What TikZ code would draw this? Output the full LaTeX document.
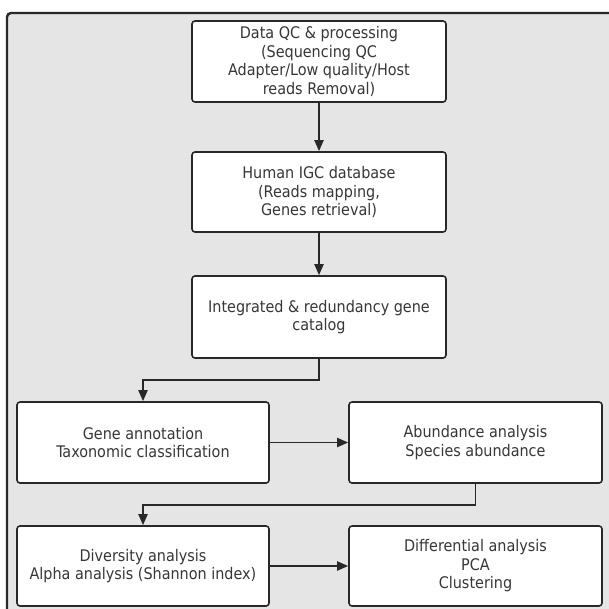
\documentclass[tikz,border=0pt]{standalone}
\usepackage{fontspec}
\setmainfont{DejaVu Sans Condensed}
\usetikzlibrary{arrows.meta}
\definecolor{framegray}{RGB}{229,229,229}
\definecolor{edge}{RGB}{40,40,40}
\definecolor{txt}{RGB}{55,55,55}
\tikzset{
  stepbox/.style={draw=edge, line width=1.6pt, fill=white, rounded corners=3pt,
    align=center, text=txt, inner sep=0pt, font=\fontsize{16}{18.5}\selectfont},
  conn/.style={draw=edge, line width=1.9pt, -{Triangle[length=11pt,width=9pt]}}
}
\begin{document}
\begin{tikzpicture}[x=1pt,y=-1pt]
\useasboundingbox (0,0) rectangle (609,608);
\clip (0,0) rectangle (609,608);
\fill[white] (0,0) rectangle (609,608);
\draw[draw=edge, fill=framegray, line width=2.4pt, rounded corners=4pt] (7,13) rectangle (640,640);
\node[stepbox, minimum width=254pt, minimum height=81pt] (b1) at (319,61.5)
  {Data QC \& processing\\(Sequencing QC\\Adapter/Low quality/Host\\reads Removal)};
\node[stepbox, minimum width=254pt, minimum height=80pt] (b2) at (319,192)
  {Human IGC database\\(Reads mapping,\\Genes retrieval)};
\node[stepbox, minimum width=254pt, minimum height=82pt] (b3) at (319,317)
  {Integrated \& redundancy gene\\catalog};
\node[stepbox, minimum width=252pt, minimum height=81pt] (b4) at (143,442.5)
  {Gene annotation\\Taxonomic classification};
\node[stepbox, minimum width=253pt, minimum height=81pt] (b5) at (475.5,442.5)
  {Abundance analysis\\Species abundance};
\node[stepbox, minimum width=252pt, minimum height=80pt] (b6) at (143,566)
  {Diversity analysis\\Alpha analysis (Shannon index)};
\node[stepbox, minimum width=253pt, minimum height=80pt] (b7) at (475.5,566)
  {Differential analysis\\PCA\\Clustering};
\draw[conn] (b1) -- (b2);
\draw[conn] (b2) -- (b3);
\draw[conn] (b3.south) -- ++(0,21) -| (b4.north);
\draw[conn] (b4) -- (b5);
\draw[conn] (b5.south) -- ++(0,21) -| (b6.north);
\draw[conn] (b6) -- (b7);
\end{tikzpicture}
\end{document}
